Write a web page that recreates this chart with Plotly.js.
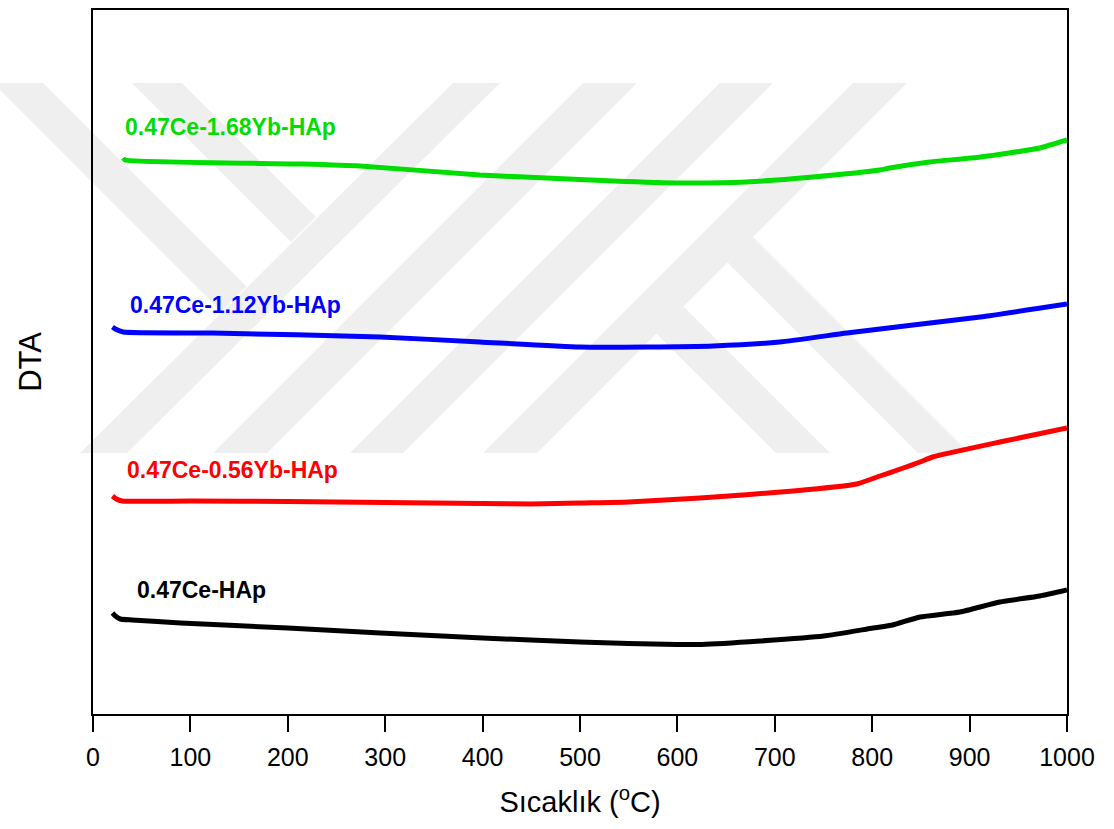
<!DOCTYPE html>
<html>
<head>
<meta charset="utf-8">
<script src="https://cdn.plot.ly/plotly-3.0.1.min.js"></script>
<style>html,body{margin:0;padding:0;background:#fff;}#chart{width:1114px;height:829px;}</style>
</head>
<body>
<div id="chart"></div>
<script>
// Temperature (°C) and DTA signal (arbitrary units, offset per sample)
const blackX = [20, 23, 28, 40, 90, 200, 295, 400, 500, 550, 600, 625, 685, 750, 801, 821, 849, 890, 931, 972, 1000];
const blackY = [101, 98, 95, 94, 91, 86, 81, 76, 72, 70.5, 69.5, 69.5, 73, 78, 86, 89, 97, 102, 112, 118, 124];

const redX = [20, 24, 30, 100, 200, 300, 400, 450, 500, 550, 623, 719, 784, 808, 829, 849, 862, 931, 1000];
const redY = [218, 215, 213, 213, 212.5, 211.5, 210.5, 210, 211, 212, 216, 223, 230, 238, 245, 252, 257, 272, 286];

const blueX = [20, 23, 31, 123, 295, 397, 500, 569, 637, 705, 774, 842, 911, 1000];
const blueY = [387, 385, 382, 381, 377, 372, 367, 367, 368, 372, 381, 389, 397, 410];

const greenX = [31, 33, 212, 274, 397, 418, 534, 603, 671, 739, 808, 818, 859, 911, 972, 1000];
const greenY = [556, 554, 550, 548, 539, 538, 533, 531, 532, 537, 544, 546, 552, 557, 566, 574];

const seriesNames = ["0.47Ce-HAp", "0.47Ce-0.56Yb-HAp", "0.47Ce-1.12Yb-HAp", "0.47Ce-1.68Yb-HAp"];
const seriesColors = ["#000000", "#ff0000", "#0000ff", "#00dd00"];
const labelX = [43, 33, 36, 31];
const labelY = [124, 244, 409, 587];

const tickVals = [0, 100, 200, 300, 400, 500, 600, 700, 800, 900, 1000];

const xs = [blackX, redX, blueX, greenX];
const ys = [blackY, redY, blueY, greenY];

const traces = xs.map((x, i) => ({
  x: x, y: ys[i], type: "scatter", mode: "lines", name: seriesNames[i],
  line: {color: seriesColors[i], width: 5, shape: "spline", smoothing: 0.5},
  hoverinfo: "skip"
}));

const annotations = seriesNames.map((n, i) => ({
  x: labelX[i], y: labelY[i], xref: "x", yref: "y", text: "<b>" + n + "</b>",
  showarrow: false, xanchor: "left", yanchor: "middle",
  font: {family: "Liberation Sans, Arial, sans-serif", size: 23, color: seriesColors[i]}
}));

// Faint background watermark (decoration), defined in page pixels, converted to paper coords
const PL = 93, PW = 974, PB = 714, PH = 704;
function P(px, py) { return ((px - PL) / PW).toFixed(4) + "," + ((PB - py) / PH).toFixed(4); }
function poly(pts) { return "M" + pts.map(p => P(p[0], p[1])).join(" L") + " Z"; }
const wm = [
  [[453,83],[500,83],[127,453],[80,453]],
  [[583,83],[637,83],[267,453],[213,453]],
  [[720,83],[773,83],[403,453],[350,453]],
  [[853,83],[907,83],[537,453],[483,453]],
  [[-7,83],[43,83],[246.5,286.5],[221.5,311.5]],
  [[132,83],[182,83],[316,217],[291,242]],
  [[753,237],[969,453],[918,453],[727.5,262.5]],
  [[683.5,306.5],[830,453],[776,453],[656.5,333.5]]
];
const shapes = wm.map(pts => ({
  type: "path", xref: "paper", yref: "paper", path: poly(pts),
  fillcolor: "#efefef", line: {width: 0}, layer: "below"
}));

const layout = {
  width: 1114, height: 829,
  margin: {l: 93, r: 47, t: 10, b: 115},
  paper_bgcolor: "rgba(255,255,255,1)",
  plot_bgcolor: "rgba(0,0,0,0)",
  showlegend: false,
  font: {family: "Liberation Sans, Arial, sans-serif", color: "#000"},
  xaxis: {
    range: [0, 1000], tickvals: tickVals, ticktext: tickVals.map(String),
    ticks: "outside", ticklen: 16, tickwidth: 2, tickcolor: "#000",
    ticklabelstandoff: 4,
    showline: true, linewidth: 2, linecolor: "#000", mirror: true,
    showgrid: false, zeroline: false,
    tickfont: {size: 25, family: "Liberation Sans, Arial, sans-serif"},
    title: {text: "Sıcaklık (<sup>o</sup>C)", font: {size: 29}, standoff: 22},
    automargin: false
  },
  yaxis: {
    range: [0, 704], showticklabels: false, ticks: "",
    showline: true, linewidth: 2, linecolor: "#000", mirror: true,
    showgrid: false, zeroline: false,
    title: {text: "DTA", font: {size: 31}, standoff: 40},
    automargin: false
  },
  annotations: annotations,
  shapes: shapes
};

Plotly.newPlot("chart", traces, layout, {staticPlot: true, displayModeBar: false});
</script>
</body>
</html>
